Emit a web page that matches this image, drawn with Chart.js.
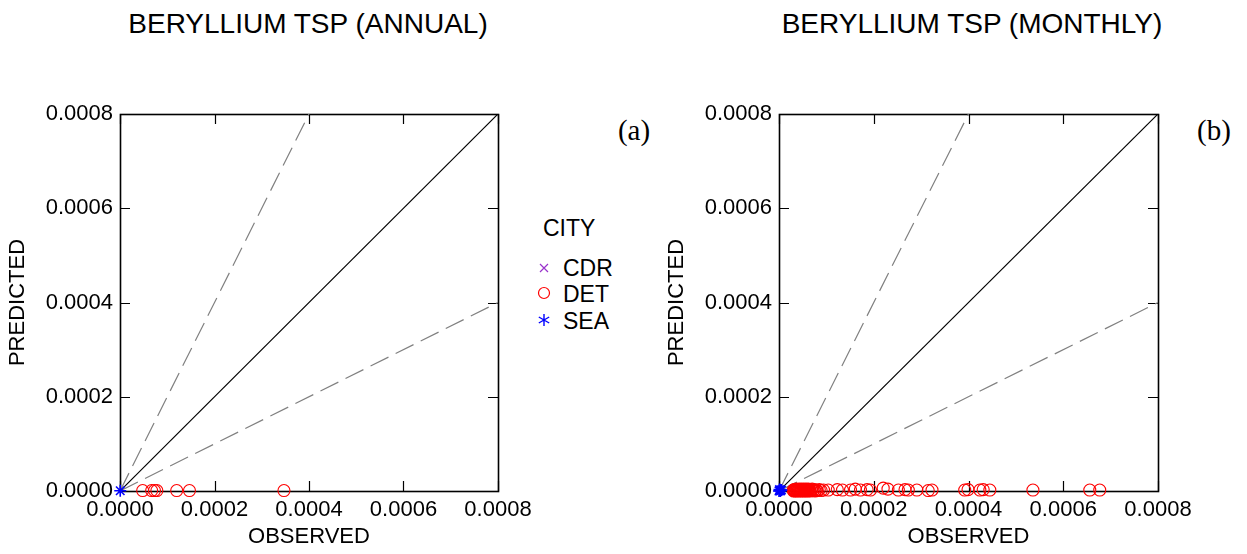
<!DOCTYPE html>
<html>
<head>
<meta charset="utf-8">
<script src="https://cdn.jsdelivr.net/npm/chart.js@4.4.1/dist/chart.umd.min.js"></script>
<style>
  html,body{margin:0;padding:0;background:#fff;}
  body{width:1247px;height:554px;position:relative;overflow:hidden;font-family:'Liberation Sans',Arial,sans-serif;color:#000;}
  canvas{position:absolute;top:0;}
  #c1{left:0;}
  #c2{left:659px;}
  .t{position:absolute;transform:translate(-50%,-50%);white-space:nowrap;font-size:28px;}
  .tag{position:absolute;transform:translate(-50%,-50%);font-family:'Liberation Serif','Times New Roman',serif;font-size:29px;}
  .leg{position:absolute;font-size:23px;transform:translateY(-50%);white-space:nowrap;}
  .mk{position:absolute;transform:translate(-50%,-50%);}
</style>
</head>
<body>
<div class="t" style="left:308px;top:24px;">BERYLLIUM TSP (ANNUAL)</div>
<div class="t" style="left:972px;top:24px;">BERYLLIUM TSP (MONTHLY)</div>
<div class="tag" style="left:634px;top:130px;">(a)</div>
<div class="tag" style="left:1214px;top:130px;">(b)</div>

<div class="leg" style="left:543px;top:228px;">CITY</div>
<svg class="mk" style="left:544px;top:268px;" width="12" height="12"><path d="M2 2L10 10M10 2L2 10" stroke="#9933cc" stroke-width="1.2"/></svg>
<div class="leg" style="left:563px;top:268px;">CDR</div>
<svg class="mk" style="left:544px;top:293px;" width="14" height="14"><circle cx="7" cy="7" r="5.5" fill="none" stroke="#ff0000" stroke-width="1.2"/></svg>
<div class="leg" style="left:563px;top:294px;">DET</div>
<svg class="mk" style="left:544px;top:320px;" width="14" height="14"><path d="M7 1V13M1.8 4L12.2 10M12.2 4L1.8 10" stroke="#0000ff" stroke-width="1.4"/></svg>
<div class="leg" style="left:563px;top:321px;">SEA</div>

<canvas id="c1" width="620" height="554"></canvas>
<canvas id="c2" width="588" height="554"></canvas>

<script>
// axis ticks (both axes, both panels)
const tickVals = [0, 0.0002, 0.0004, 0.0006, 0.0008];
const axisMax = 0.0008;

// reference lines: 1:1, factor 2 over, factor 2 under
const oneToOne = [[0, 0], [0.0008, 0.0008]];
const twoOver = [[0, 0], [0.0004, 0.0008]];
const twoUnder = [[0, 0], [0.0008, 0.0004]];

// (a) annual
const annCdrObs = [];
const annCdrPred = [];
const annDetObs = [0.000048, 0.000067, 0.000073, 0.000078, 0.000120, 0.000147, 0.000347];
const annDetPred = [0.000001, 0.000001, 0.000001, 0.000001, 0.000001, 0.000001, 0.000001];
const annSeaObs = [0.0000005];
const annSeaPred = [0.0000005];

// (b) monthly
const monCdrObs = [];
const monCdrPred = [];
const monDetObs = [
  0.000030, 0.000031, 0.000032, 0.000033, 0.000034, 0.000035, 0.000036, 0.000037,
  0.000038, 0.000039, 0.000040, 0.000041, 0.000042, 0.000043, 0.000044, 0.000045,
  0.000046, 0.000047, 0.000048, 0.000049, 0.000050, 0.000051, 0.000052, 0.000053,
  0.000054, 0.000055, 0.000056, 0.000057, 0.000058, 0.000059, 0.000060, 0.000061,
  0.000062, 0.000063, 0.000064, 0.000066, 0.000068, 0.000070, 0.000072, 0.000074,
  0.000076, 0.000078, 0.000081, 0.000085, 0.000089, 0.000094,
  0.000104, 0.000123, 0.000134, 0.000151, 0.000161, 0.000172, 0.000186, 0.000193,
  0.000220, 0.000230, 0.000252, 0.000266, 0.000273, 0.000291, 0.000315, 0.000323,
  0.000392, 0.000399, 0.000424, 0.000431, 0.000445, 0.000536, 0.000656, 0.000677
];
const monDetPred = [
  0.000002, 0.000000, 0.000003, 0.000001, 0.000002, 0.000000, 0.000004, 0.000001,
  0.000002, 0.000003, 0.000000, 0.000002, 0.000004, 0.000001, 0.000003, 0.000000,
  0.000002, 0.000004, 0.000001, 0.000003, 0.000000, 0.000002, 0.000004, 0.000001,
  0.000003, 0.000000, 0.000002, 0.000004, 0.000001, 0.000003, 0.000000, 0.000002,
  0.000004, 0.000001, 0.000003, 0.000000, 0.000002, 0.000004, 0.000001, 0.000003,
  0.000000, 0.000002, 0.000001, 0.000003, 0.000001, 0.000002,
  0.000002, 0.000003, 0.000002, 0.000002, 0.000004, 0.000002, 0.000003, 0.000002,
  0.000006, 0.000004, 0.000002, 0.000003, 0.000002, 0.000002, 0.000001, 0.000002,
  0.000002, 0.000003, 0.000002, 0.000003, 0.000002, 0.000002, 0.000002, 0.000002
];
const monSeaObs = [0.000000, 0.000002, 0.000004, 0.000001, 0.000003, 0.000005];
const monSeaPred = [0.000000, 0.000001, 0.000002, 0.000003, 0.000000, 0.000002];

Chart.defaults.font.family = "'Liberation Sans', Arial, sans-serif";
Chart.defaults.color = '#000';

const pts = (xs, ys) => xs.map((v, i) => ({x: v, y: ys[i]}));
const seg = arr => arr.map(p => ({x: p[0], y: p[1]}));

// frame + inward ticks, drawn under the points
const frameTicks = {
  id: 'frameTicks',
  beforeDatasetsDraw(chart){
    const {ctx, chartArea: a, scales: {x, y}} = chart;
    ctx.save();
    ctx.strokeStyle = '#000';
    ctx.lineWidth = 1.2;
    x.ticks.forEach(t => {
      const px = Math.round(x.getPixelForValue(t.value)) + 0.5;
      ctx.beginPath();
      ctx.moveTo(px, a.bottom); ctx.lineTo(px, a.bottom - 10);
      ctx.moveTo(px, a.top); ctx.lineTo(px, a.top + 10);
      ctx.stroke();
    });
    y.ticks.forEach(t => {
      const py = Math.round(y.getPixelForValue(t.value)) + 0.5;
      ctx.beginPath();
      ctx.moveTo(a.left, py); ctx.lineTo(a.left + 10, py);
      ctx.moveTo(a.right, py); ctx.lineTo(a.right - 10, py);
      ctx.stroke();
    });
    ctx.lineWidth = 1.6;
    ctx.strokeRect(Math.round(a.left) + 0.5, Math.round(a.top) + 0.5,
      Math.round(a.right - a.left), Math.round(a.bottom - a.top));
    ctx.restore();
  }
};

function axis(title, isX){
  const s = {
    type: 'linear', min: 0, max: axisMax,
    afterBuildTicks: sc => { sc.ticks = tickVals.map(v => ({value: v})); },
    ticks: {callback: v => v.toFixed(4), font: {size: 22}, padding: isX ? 6 : 7, autoSkip: false, maxRotation: 0, color: '#000'},
    grid: {display: false, drawTicks: false, tickLength: 0},
    border: {display: false},
    title: {display: true, text: title, color: '#000', font: {size: 22}, padding: isX ? {top: 0, bottom: 4} : {top: 5, bottom: 0}}
  };
  if (isX) s.afterFit = sc => { sc.height = 63; };
  else s.afterFit = sc => { sc.width = 120; };
  return s;
}

function makeChart(id, padRight, cdr, det, sea){
  return new Chart(document.getElementById(id), {
    type: 'scatter',
    data: {
      datasets: [
        {label: 'SEA', data: sea, pointStyle: 'star', radius: 6, borderColor: '#0000ff', borderWidth: 1.6, backgroundColor: '#0000ff', clip: false, order: 1},
        {label: 'DET', data: det, pointStyle: 'circle', radius: 6, borderColor: '#ff0000', borderWidth: 1.1, backgroundColor: 'rgba(0,0,0,0)', clip: false, order: 2},
        {label: 'CDR', data: cdr, pointStyle: 'crossRot', radius: 5, borderColor: '#9933cc', borderWidth: 1.2, clip: false, order: 3},
        {type: 'line', data: seg(oneToOne), borderColor: '#000', borderWidth: 1.2, pointRadius: 0, order: 4},
        {type: 'line', data: seg(twoOver), borderColor: '#808080', borderWidth: 1.2, borderDash: [20, 8], pointRadius: 0, order: 5},
        {type: 'line', data: seg(twoUnder), borderColor: '#808080', borderWidth: 1.2, borderDash: [20, 8], pointRadius: 0, order: 6}
      ]
    },
    options: {
      responsive: false,
      animation: false,
      devicePixelRatio: 1,
      layout: {padding: {left: 0, top: 114, right: padRight, bottom: 0}},
      plugins: {legend: {display: false}, tooltip: {enabled: false}},
      scales: {x: axis('OBSERVED', true), y: axis('PREDICTED', false)}
    },
    plugins: [frameTicks]
  });
}

makeChart('c1', 122, pts(annCdrObs, annCdrPred), pts(annDetObs, annDetPred), pts(annSeaObs, annSeaPred));
makeChart('c2', 89, pts(monCdrObs, monCdrPred), pts(monDetObs, monDetPred), pts(monSeaObs, monSeaPred));
</script>
</body>
</html>
